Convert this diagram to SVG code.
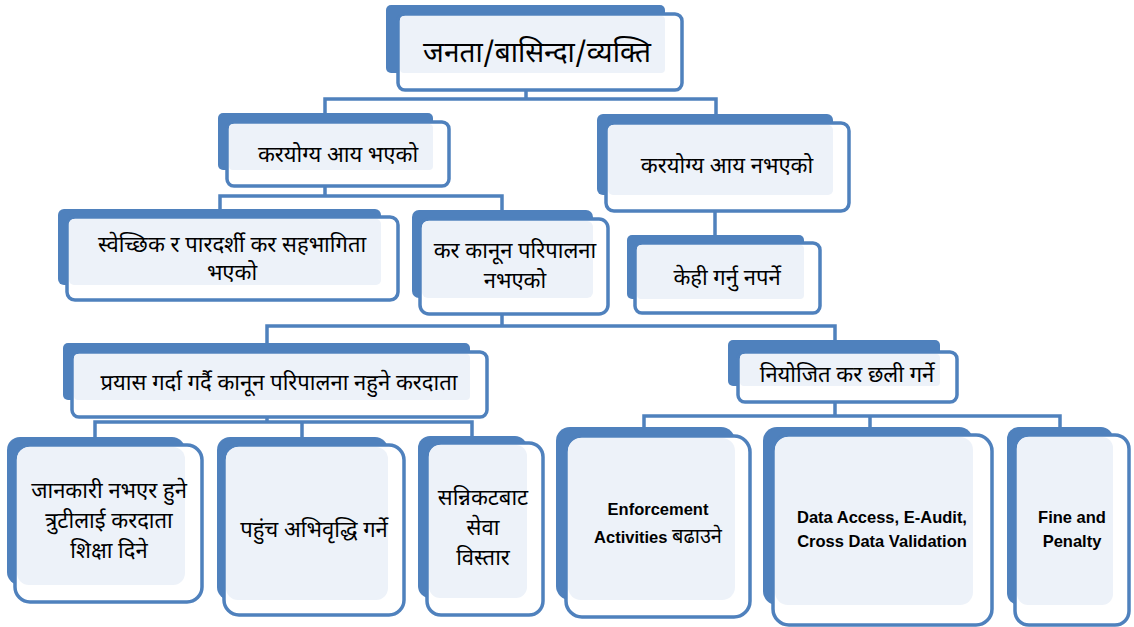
<svg xmlns="http://www.w3.org/2000/svg" width="1134" height="627" viewBox="0 0 1134 627">
<style>
.a{fill:#4F81BD}
.b{fill:#FFFFFF;stroke:#4F81BD;stroke-width:3.5}
.f{fill:#EDF2F9}
.t{font-family:"Noto Sans Devanagari","Lohit Devanagari","Mangal","Noto Sans","DejaVu Sans",sans-serif;fill:#000;text-anchor:middle;font-size:22px}
.e{font-family:"Liberation Sans",Arial,sans-serif;font-weight:bold;fill:#000;text-anchor:middle;font-size:16.5px}
.c{fill:none;stroke:#4F81BD;stroke-width:3.5}
</style>
<rect width="1134" height="627" fill="#FFFFFF"/>
<g id="connectors">
<path class="c" d="M526,90 V99 M325,113 V99 H716 V114"/>
<path class="c" d="M325,186 V196 M220,209 V196 H502 V210"/>
<path class="c" d="M715,211 V235"/>
<path class="c" d="M502,314 V326 M267,343 V326 H835 V340"/>
<path class="c" d="M267,417 V422 M95,437 V422 H472 V436 M302,422 V437"/>
<path class="c" d="M835,402 V416 M644,427 V416 H1060 V427 M870,416 V427"/>
</g>
<g id="n1">
<rect class="a" x="386" y="5" width="279" height="68" rx="5"/>
<rect class="b" x="398" y="14" width="284" height="76" rx="7"/>
<rect class="f" x="400" y="16" width="265" height="57" rx="4"/>
<text class="t" x="537" y="62" style="font-size:28px">जनता/बासिन्दा/व्यक्ति</text>
</g>
<g id="n2">
<rect class="a" x="218" y="113" width="215" height="57" rx="5"/>
<rect class="b" x="227" y="122" width="222" height="64" rx="7"/>
<rect class="f" x="229" y="124" width="204" height="46" rx="4"/>
<text class="t" x="338" y="162">करयोग्य आय भएको</text>
</g>
<g id="n3">
<rect class="a" x="597" y="114" width="236" height="81" rx="6"/>
<rect class="b" x="606" y="123" width="243" height="88" rx="8"/>
<rect class="f" x="608" y="125" width="225" height="70" rx="5"/>
<text class="t" x="727" y="173">करयोग्य आय नभएको</text>
</g>
<g id="n4">
<rect class="a" x="627" y="235" width="177" height="64" rx="5"/>
<rect class="b" x="635" y="243" width="185" height="70" rx="7"/>
<rect class="f" x="637" y="245" width="167" height="54" rx="4"/>
<text class="t" x="727" y="285">केही गर्नु नपर्ने</text>
</g>
<g id="n5">
<rect class="a" x="58" y="209" width="323" height="76" rx="6"/>
<rect class="b" x="67" y="217" width="331" height="83" rx="8"/>
<rect class="f" x="69" y="219" width="312" height="66" rx="5"/>
<text class="t" x="232" y="252">स्वेच्छिक र पारदर्शी कर सहभागिता</text>
<text class="t" x="232" y="280">भएको</text>
</g>
<g id="n6">
<rect class="a" x="412" y="210" width="181" height="88" rx="7"/>
<rect class="b" x="420" y="219" width="188" height="95" rx="9"/>
<rect class="f" x="422" y="221" width="171" height="77" rx="6"/>
<text class="t" x="515" y="258">कर कानून परिपालना</text>
<text class="t" x="515" y="288">नभएको</text>
</g>
<g id="n7">
<rect class="a" x="63" y="343" width="407" height="57" rx="5"/>
<rect class="b" x="72" y="352" width="415" height="65" rx="7"/>
<rect class="f" x="74" y="354" width="396" height="46" rx="4"/>
<text class="t" x="279" y="390">प्रयास गर्दा गर्दै कानून परिपालना नहुने करदाता</text>
</g>
<g id="n8">
<rect class="a" x="728" y="340" width="212" height="46" rx="5"/>
<rect class="b" x="738" y="352" width="219" height="50" rx="7"/>
<rect class="f" x="740" y="354" width="200" height="32" rx="4"/>
<text class="t" x="847" y="382">नियोजित कर छली गर्ने</text>
</g>
<g id="n9">
<rect class="a" x="7" y="437" width="178" height="148" rx="13"/>
<rect class="b" x="15" y="445" width="187" height="157" rx="15"/>
<rect class="f" x="17" y="447" width="168" height="138" rx="12"/>
<text class="t" x="109" y="498">जानकारी नभएर हुने</text>
<text class="t" x="109" y="528">त्रुटीलाई करदाता</text>
<text class="t" x="109" y="558">शिक्षा दिने</text>
</g>
<g id="n10">
<rect class="a" x="217" y="437" width="171" height="163" rx="13"/>
<rect class="b" x="224" y="445" width="180" height="170" rx="15"/>
<rect class="f" x="226" y="447" width="162" height="153" rx="12"/>
<text class="t" x="314" y="537">पहुंच अभिवृद्धि गर्ने</text>
</g>
<g id="n11">
<rect class="a" x="418" y="436" width="109" height="162" rx="12"/>
<rect class="b" x="427" y="443" width="116" height="172" rx="14"/>
<rect class="f" x="429" y="445" width="98" height="153" rx="11"/>
<text class="t" x="483" y="505">सन्निकटबाट</text>
<text class="t" x="483" y="535">सेवा</text>
<text class="t" x="483" y="565">विस्तार</text>
</g>
<g id="n12">
<rect class="a" x="556" y="427" width="179" height="173" rx="14"/>
<rect class="b" x="566" y="436" width="184" height="181" rx="16"/>
<rect class="f" x="568" y="438" width="167" height="162" rx="13"/>
<text class="e" x="658" y="515">Enforcement</text>
<text class="e" x="658" y="543">Activities <tspan class="t" style="font-weight:normal;font-size:20px">बढाउने</tspan></text>
</g>
<g id="n13">
<rect class="a" x="763" y="427" width="210" height="178" rx="14"/>
<rect class="b" x="773" y="435" width="219" height="190" rx="16"/>
<rect class="f" x="775" y="437" width="198" height="168" rx="13"/>
<text class="e" x="882" y="523">Data Access, E-Audit,</text>
<text class="e" x="882" y="547">Cross Data Validation</text>
</g>
<g id="n14">
<rect class="a" x="1007" y="427" width="106" height="178" rx="12"/>
<rect class="b" x="1015" y="435" width="114" height="190" rx="14"/>
<rect class="f" x="1017" y="437" width="96" height="168" rx="11"/>
<text class="e" x="1072" y="523">Fine and</text>
<text class="e" x="1072" y="547">Penalty</text>
</g>
</svg>
